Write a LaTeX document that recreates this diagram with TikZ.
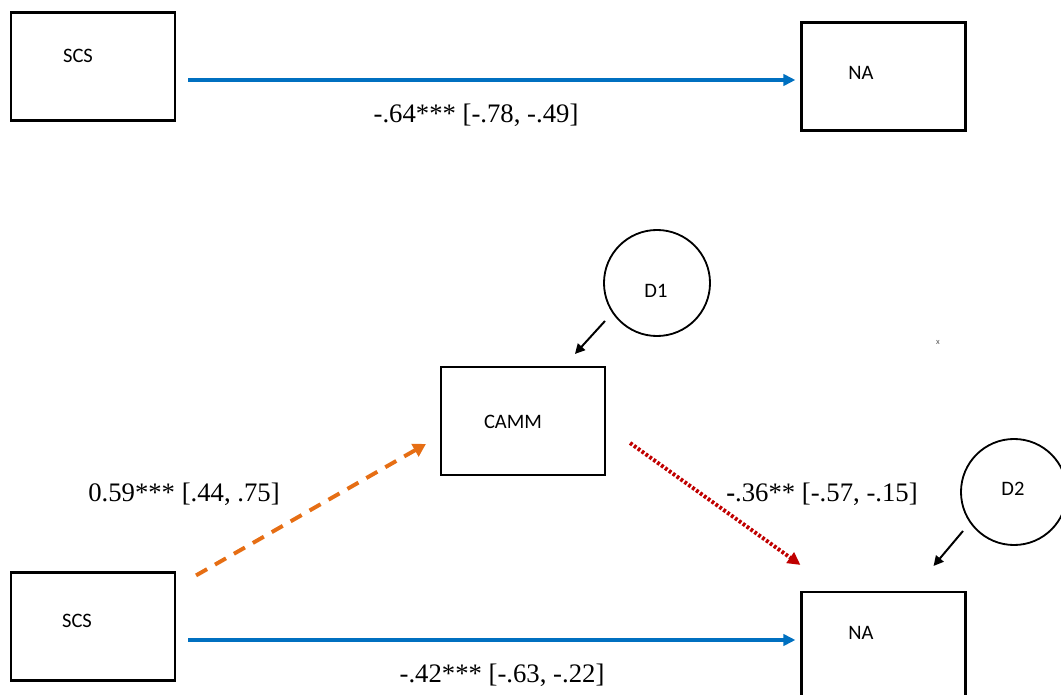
\documentclass[tikz,border=0pt]{standalone}
\usepackage{fontspec}
\setmainfont{Liberation Serif}
\newfontfamily\boxfont{Carlito}
\usetikzlibrary{calc, arrows.meta}
\definecolor{pathblue}{RGB}{0,112,192}
\definecolor{pathorange}{RGB}{230,110,20}
\definecolor{pathred}{RGB}{192,0,0}

\begin{document}
\begin{tikzpicture}[x=0.025cm, y=-0.025cm,
    varbox/.style={draw, line width=1.5pt, minimum width=4.1cm, minimum height=2.7cm},
    errcirc/.style={draw, circle, line width=1.3pt, minimum size=2.65cm},
    boxtxt/.style={font=\boxfont\fontsize{14.6}{16}\selectfont},
    coef/.style={black, font=\fontsize{19}{22}\selectfont},
    blueline/.style={pathblue, line width=2.8pt, -{Triangle[length=8.5pt, width=8pt]}},
    errline/.style={black, line width=1.4pt, -{Triangle[length=7pt, width=7pt]}}]
            \clip (0,0) rectangle (1061,695);
            \node[varbox] (scsTop) at (93,66.5) {};
            \node[varbox] (naTop) at (883.5,76.5) {};
            \node[varbox] (camm) at (523,421) {};
            \node[varbox] (scsBot) at (93,626.5) {};
            \node[varbox] (naBot) at (883.5,646) {};
            \node[errcirc] (d1) at (657,283) {};
            \node[errcirc] (d2) at (1014,492) {};
            \node[boxtxt] (scsTopTxt) at (78,56) {SCS};
            \node[boxtxt] (naTopTxt) at (861,73) {NA};
            \node[boxtxt] (cammTxt) at (513,422) {CAMM};
            \node[boxtxt] (scsBotTxt) at (77,621) {SCS};
            \node[boxtxt] (naBotTxt) at (861,633) {NA};
            \node[boxtxt] (d1Txt) at (656,291) {D1};
            \node[boxtxt] (d2Txt) at (1013,489) {D2};
            \node[font=\boxfont\fontsize{6}{7}\selectfont, gray!70!black] (xMark) at (938,342) {x};
            \draw[blueline] ($(scsTop.east)+(12,13.5)$)--($(naTop.west)+(-5,3.5)$);
            \draw[blueline] ($(scsBot.east)+(12,13.5)$)--($(naBot.west)+(-5,-6)$);
            \draw[pathorange, line width=2.8pt, dash pattern=on 9pt off 6.5pt, -{Triangle[length=9pt, width=10pt]}] ($(scsBot.north east)+(20,4)$)--($(camm.west)+(-14,23)$);
            \draw[pathred, line width=2.8pt, dash pattern=on 2pt off 1.4pt, -{Triangle[length=9pt, width=9pt]}] ($(camm.east)+(24,22)$)--($(naBot.north west)+(0,-26)$);
            \node[coef] (cTot) at (476,115) {-.64*** [-.78, -.49]};
            \node[coef] (cDir) at (502,675) {-.42*** [-.63, -.22]};
            \node[coef] (aPath) at (184,494) {0.59*** [.44, .75]};
            \node[coef] (bPath) at (822,494) {\textbf{-}.36** [-.57, -.15]};
            \draw[errline] ($(d1)+(-52,38)$)--($(camm.north)+(52,-12)$);
            \draw[errline] ($(d2)+(-51,39)$)--($(naBot.north east)+(-33,-25)$);
        \end{tikzpicture}
\end{document}
